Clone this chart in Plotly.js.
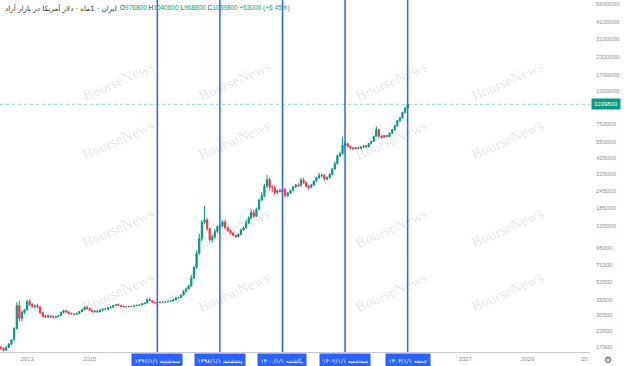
<!DOCTYPE html>
<html><head><meta charset="utf-8">
<script src="https://cdn.plot.ly/plotly-3.0.1.min.js"></script>
<style>html,body{margin:0;padding:0;background:#fff}#chart{width:624px;height:366px}</style>
</head><body><div id="chart"></div>
<script>
// Monthly (Jalali month) bars, x = Gregorian start date of each month
const dates = [
 '2012-02-20','2012-03-20','2012-04-20','2012-05-21','2012-06-21','2012-07-22','2012-08-22','2012-09-22','2012-10-22','2012-11-21','2012-12-21',
 '2013-01-21','2013-02-20','2013-03-21','2013-04-21','2013-05-22','2013-06-22','2013-07-23','2013-08-23','2013-09-23','2013-10-23','2013-11-22','2013-12-22',
 '2014-01-21','2014-02-20','2014-03-21','2014-04-21','2014-05-22','2014-06-22','2014-07-23','2014-08-23','2014-09-23','2014-10-23','2014-11-22','2014-12-22',
 '2015-01-21','2015-02-20','2015-03-21','2015-04-21','2015-05-22','2015-06-22','2015-07-23','2015-08-23','2015-09-23','2015-10-23','2015-11-22','2015-12-22',
 '2016-01-21','2016-02-20','2016-03-21','2016-04-21','2016-05-22','2016-06-22','2016-07-23','2016-08-23','2016-09-23','2016-10-23','2016-11-22','2016-12-22',
 '2017-01-21','2017-02-20','2017-03-21','2017-04-21','2017-05-22','2017-06-22','2017-07-23','2017-08-23','2017-09-23','2017-10-23','2017-11-22','2017-12-22',
 '2018-01-21','2018-02-20','2018-03-21','2018-04-21','2018-05-22','2018-06-22','2018-07-23','2018-08-23','2018-09-23','2018-10-23','2018-11-22','2018-12-22',
 '2019-01-21','2019-02-20','2019-03-21','2019-04-21','2019-05-22','2019-06-22','2019-07-23','2019-08-23','2019-09-23','2019-10-23','2019-11-22','2019-12-22',
 '2020-01-21','2020-02-20','2020-03-20','2020-04-20','2020-05-21','2020-06-21','2020-07-22','2020-08-22','2020-09-22','2020-10-22','2020-11-21','2020-12-21',
 '2021-01-20','2021-02-19','2021-03-21','2021-04-21','2021-05-22','2021-06-22','2021-07-23','2021-08-23','2021-09-23','2021-10-23','2021-11-22','2021-12-22',
 '2022-01-21','2022-02-20','2022-03-21','2022-04-21','2022-05-22','2022-06-22','2022-07-23','2022-08-23','2022-09-23','2022-10-23','2022-11-22','2022-12-22',
 '2023-01-21','2023-02-20','2023-03-21','2023-04-21','2023-05-22','2023-06-22','2023-07-23','2023-08-23','2023-09-23','2023-10-23','2023-11-22','2023-12-22',
 '2024-01-21','2024-02-20','2024-03-20','2024-04-20','2024-05-21','2024-06-21','2024-07-22','2024-08-22','2024-09-22','2024-10-22','2024-11-21','2024-12-21',
 '2025-01-20','2025-02-19','2025-03-21'
];
const openV = [
 18500,17800,17600,17000,17800,18800,20200,24500,36000,29000,32000,
 33500,38500,36500,35500,35800,35000,31800,30000,29800,30200,29700,29500,
 29900,30500,32000,33000,32200,31500,31200,31000,31500,32500,33500,34800,
 34200,33200,32500,32800,32300,33300,33800,33600,34600,34900,35900,36500,
 36000,35500,35200,35400,35300,35500,35900,36100,36300,37000,37500,39800,
 39000,38000,37600,37900,38100,38000,38200,38600,38800,39500,40800,41000,
 42800,45500,47500,50000,57000,68000,86000,110000,145000,150000,130000,108000,
 113000,124000,134000,136000,145000,132000,126000,121000,116000,114000,118000,127000,
 132000,143000,155000,170000,160000,180000,210000,225000,265000,295000,260000,258000,
 238000,245000,242000,250000,226000,236000,246000,262000,270000,266000,292000,280000,
 264000,260000,270000,288000,305000,315000,318000,298000,305000,322000,352000,385000,
 440000,455000,525000,540000,515000,500000,495000,502000,498000,508000,518000,510000,
 540000,560000,610000,680000,610000,598000,618000,605000,640000,680000,725000,790000,
 830000,905000,976800
];
const highV = [
 19300,18300,17800,18200,19200,20500,25000,38000,39000,33000,34000,
 39500,40000,37500,36500,37000,35500,32500,30800,31000,30800,30500,30200,
 30800,32500,33500,33500,32700,32000,31600,31800,32800,33800,35500,35800,
 34800,33600,33200,33400,33600,34200,34500,35000,35400,36200,36800,37200,
 36400,35900,35600,35800,35700,36100,36300,36600,37200,37700,40500,41000,
 39300,38300,38200,38400,38600,38400,38800,39000,39800,41000,41600,43000,
 46500,48500,51000,60000,70000,90000,120000,150000,190000,155000,132000,118000,
 130000,138000,140000,150000,152000,135000,128000,123000,118000,120000,130000,135000,
 150000,160000,180000,178000,185000,215000,240000,275000,320000,305000,270000,268000,
 250000,255000,262000,258000,240000,250000,265000,275000,278000,305000,305000,285000,
 272000,275000,292000,310000,330000,325000,322000,312000,330000,360000,400000,450000,
 470000,600000,560000,545000,525000,510000,510000,512000,515000,525000,528000,545000,
 565000,615000,720000,690000,625000,625000,622000,650000,690000,740000,800000,840000,
 920000,985000,1040600
];
const lowV = [
 17500,17200,16700,16900,17600,18500,20000,24000,27500,27500,31000,
 33000,35500,34500,34000,34500,31000,29500,29200,29000,29300,29000,29000,
 29500,30200,31500,31800,31000,30800,30500,30800,31300,32300,33200,33800,
 32800,32000,31900,31800,32100,33000,33200,33400,34200,34700,35600,35800,
 35300,35000,34800,35000,35000,35300,35600,35800,36100,36800,37300,38800,
 37800,37400,37300,37600,37800,37700,38000,38300,38600,39300,40300,40800,
 42500,45000,47000,49000,56000,66000,84000,105000,140000,125000,105000,103000,
 110000,120000,128000,133000,128000,124000,118000,115000,111000,112000,116000,125000,
 130000,140000,152000,155000,158000,178000,205000,220000,255000,245000,238000,228000,
 230000,238000,235000,218000,220000,232000,242000,256000,262000,264000,275000,258000,
 250000,255000,265000,282000,298000,305000,290000,290000,300000,318000,348000,380000,
 430000,450000,505000,505000,490000,485000,488000,492000,494000,500000,505000,505000,
 530000,555000,605000,590000,585000,592000,598000,600000,632000,670000,715000,775000,
 820000,895000,968800
];
const closeV = [
 17800,17600,17000,17800,18800,20200,24500,36000,29000,32000,33500,
 38500,36500,35500,35800,35000,31800,30000,29800,30200,29700,29500,29900,
 30500,32000,33000,32200,31500,31200,31000,31500,32500,33500,34800,34200,
 33200,32500,32800,32300,33300,33800,33600,34600,34900,35900,36500,36000,
 35500,35200,35400,35300,35500,35900,36100,36300,37000,37500,39800,39000,
 38000,37600,37900,38100,38000,38200,38600,38800,39500,40800,41000,42800,
 45500,47500,50000,57000,68000,86000,110000,145000,150000,130000,108000,113000,
 124000,134000,136000,145000,132000,126000,121000,116000,114000,118000,127000,132000,
 143000,155000,170000,160000,180000,210000,225000,265000,295000,260000,258000,238000,
 245000,242000,250000,226000,236000,246000,262000,270000,266000,292000,280000,264000,
 260000,270000,288000,305000,315000,318000,298000,305000,322000,352000,385000,440000,
 455000,525000,540000,515000,500000,495000,502000,498000,508000,518000,510000,540000,
 560000,610000,680000,610000,598000,618000,605000,640000,680000,725000,790000,830000,
 905000,976800,1039800
];

// price scale ticks
const yTicks = [17900,23500,30500,39500,53500,71000,95000,135000,185000,245000,325000,425000,550000,750000,1300000,1700000,2300000,3100000,4100000,5600000];
const yTickText = yTicks.map(String);
// time axis ticks
const xTickVals = ['2013-01-20','2015-01-21','2027-01-21','2029-01-20'];
const xTickText = ['2013','2015','2027','2029'];
// vertical marker lines (Nowruz) and their labels
const markerDates = ['2017-03-21','2019-03-21','2021-03-21','2023-03-21','2025-03-21'];
const markerLabels = ['۱۳۹۶/۱/۱ سه‌شنبه','۱۳۹۸/۱/۱ پنجشنبه','۱۴۰۰/۱/۱ یکشنبه','۱۴۰۲/۱/۱ سه‌شنبه','۱۴۰۴/۱/۱ جمعه'];
const lastPrice = 1039800;

const GREEN = '#089981', RED = '#f23645', BLUE = '#2962ff';
const TICKCOL = '#8d8f96';

const trace = {
  type: 'candlestick', x: dates, open: openV, high: highV, low: lowV, close: closeV,
  increasing: {line: {color: GREEN, width: 1}, fillcolor: GREEN},
  decreasing: {line: {color: RED, width: 1}, fillcolor: RED},
  whiskerwidth: 0, hoverinfo: 'skip', showlegend: false
};

const shapes = markerDates.map(d => ({
  type: 'line', xref: 'x', yref: 'paper', x0: d, x1: d, y0: 0, y1: 1,
  line: {color: BLUE, width: 1.5}
}));
shapes.push({type: 'line', xref: 'paper', yref: 'y', x0: 0, x1: 1, y0: lastPrice, y1: lastPrice,
  line: {color: 'rgba(8,153,129,0.45)', width: 1, dash: 'dot'}});

const annotations = [];
// watermark grid
const wmX = [0.1305, 0.398, 0.664, 0.929];
const wmY = [0.844, 0.602, 0.352, 0.097];
wmY.forEach(yy => wmX.forEach(xx => annotations.push({
  xref: 'paper', yref: 'paper', x: xx, y: yy, text: 'BourseNews', showarrow: false,
  textangle: -24, font: {family: 'Liberation Serif, serif', size: 15, color: 'rgba(120,120,120,0.2)'}
})));
// marker labels on time axis
markerDates.forEach((d, i) => annotations.push({
  xref: 'x', yref: 'paper', x: d, y: 0, yanchor: 'top', yshift: -1, showarrow: false,
  text: markerLabels[i], bgcolor: BLUE, borderpad: 2.5,
  font: {family: 'DejaVu Sans, sans-serif', size: 6, color: '#ffffff'}
}));
// last price label
annotations.push({xref: 'paper', yref: 'y', x: 1, y: Math.log10(lastPrice), xanchor: 'left', xshift: 1,
  showarrow: false, text: String(lastPrice), bgcolor: GREEN, borderpad: 2,
  font: {family: 'Liberation Sans, Arial, sans-serif', size: 6, color: '#ffffff'}});
// cut-off year label and settings icon
annotations.push({xref: 'paper', yref: 'paper', x: 1, y: 0, xanchor: 'right', yanchor: 'top', yshift: -2,
  showarrow: false, text: '20', font: {family: 'Liberation Sans, Arial, sans-serif', size: 6, color: TICKCOL}});
annotations.push({xref: 'paper', yref: 'paper', x: 1, y: 0, xanchor: 'center', yanchor: 'top', xshift: 18, yshift: -1,
  showarrow: false, text: '⚙', font: {family: 'DejaVu Sans, sans-serif', size: 9, color: '#555'}});
// legend / title line
annotations.push({xref: 'paper', yref: 'paper', x: 0, y: 1, xanchor: 'left', yanchor: 'top', xshift: 3, yshift: -2,
  showarrow: false, text: 'ایران · 1ماه · دلار آمریکا در بازار آزاد',
  font: {family: 'DejaVu Sans, sans-serif', size: 7.2, color: '#333'}});
const g = s => '<span style="color:' + GREEN + '">' + s + '</span>';
annotations.push({xref: 'paper', yref: 'paper', x: 0, y: 1, xanchor: 'left', yanchor: 'top', xshift: 118, yshift: -2,
  showarrow: false,
  text: 'O' + g('976800') + ' H' + g('1040600') + ' L' + g('968800') + ' C' + g('1039800') + ' ' + g('+63000 (+6.45%)'),
  font: {family: 'Liberation Sans, Arial, sans-serif', size: 6.5, color: '#333'}});

const layout = {
  width: 624, height: 366,
  margin: {l: 0, r: 34, t: 0, b: 14},
  paper_bgcolor: '#fff', plot_bgcolor: '#fff',
  showlegend: false, dragmode: false,
  xaxis: {
    type: 'date', range: ['2012-03-10', '2031-01-18'],
    rangeslider: {visible: false},
    tickvals: xTickVals, ticktext: xTickText,
    tickfont: {family: 'Liberation Sans, Arial, sans-serif', size: 6, color: TICKCOL},
    showgrid: false, zeroline: false, showline: true, linecolor: '#c9cbd1', linewidth: 1,
    ticks: '', ticklabelstandoff: 1, fixedrange: true
  },
  yaxis: {
    type: 'log', side: 'right', range: [4.2181, 6.7743],
    tickvals: yTicks, ticktext: yTickText,
    tickfont: {family: 'Liberation Sans, Arial, sans-serif', size: 6, color: TICKCOL},
    showgrid: false, zeroline: false, showline: false, ticks: '', ticklabelstandoff: 5, fixedrange: true
  },
  shapes: shapes,
  annotations: annotations
};

Plotly.newPlot('chart', [trace], layout, {staticPlot: true, displayModeBar: false});
</script>
</body></html>
